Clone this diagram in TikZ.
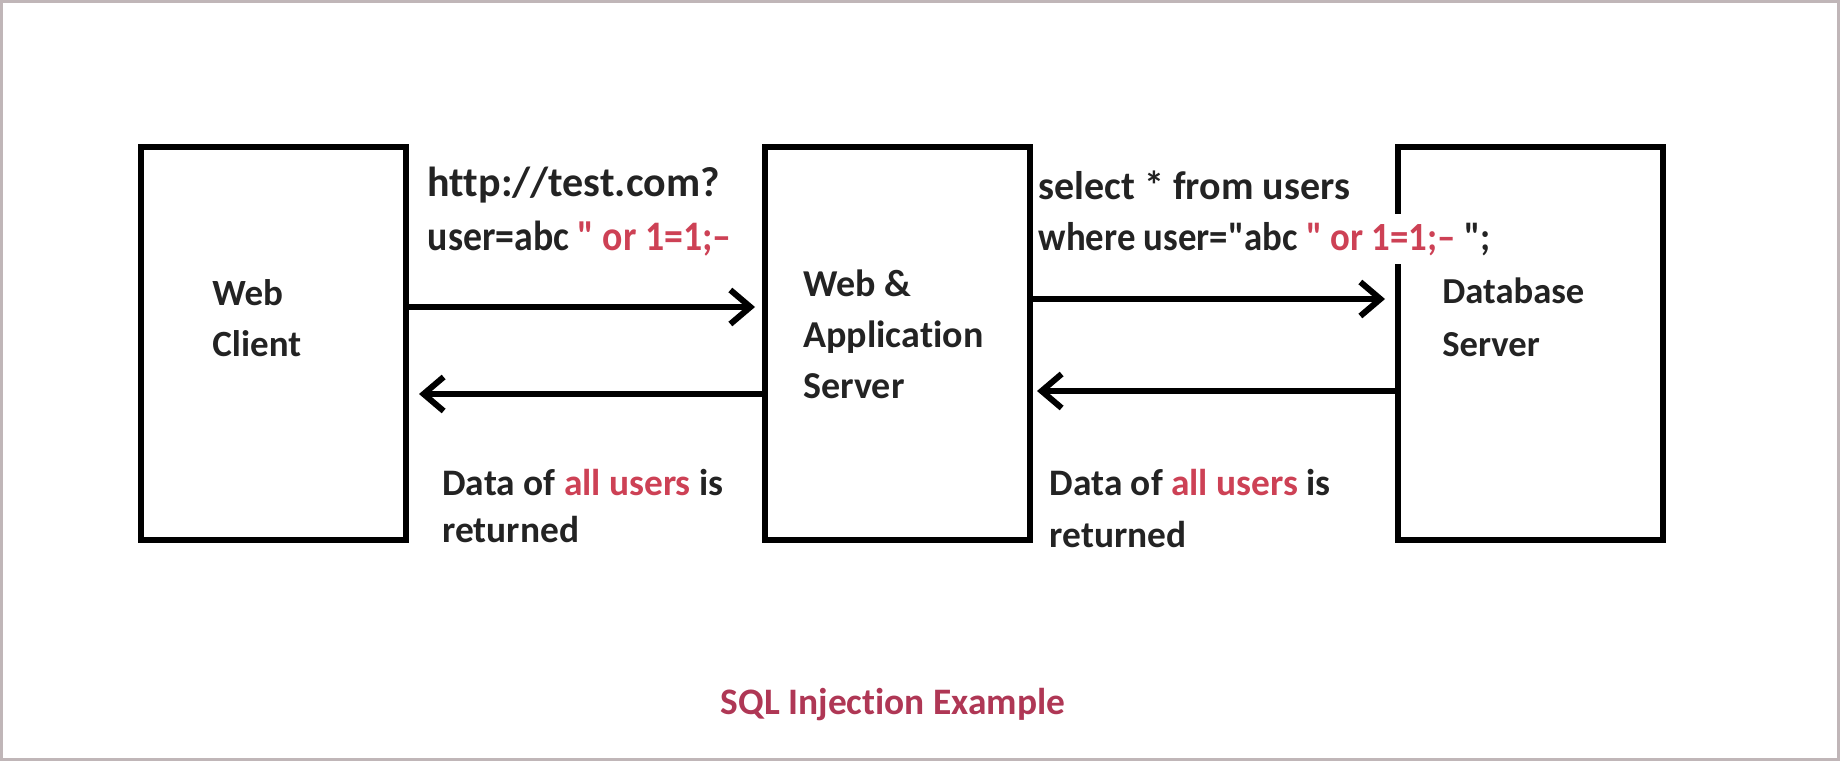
\documentclass[tikz,border=0pt]{standalone}
\usepackage{fontspec}
\setmainfont{Carlito}[Ligatures={TeX,NoCommon}]
\usetikzlibrary{arrows.meta,positioning}

\definecolor{inkgray}{RGB}{35,35,35}
\definecolor{injred}{RGB}{205,65,85}
\definecolor{titlered}{RGB}{175,55,85}
\definecolor{framegray}{RGB}{192,182,184}

\newcommand{\bad}[1]{\textcolor{injred}{#1}}
\newcommand{\dq}{\textquotedbl}

\begin{document}
\begin{tikzpicture}
      [ x=0.5pt, y=-0.5pt,
        tier/.style={draw=black, line width=3pt, minimum width=132.5pt,
                     minimum height=196.5pt, inner sep=0pt},
        txt/.style 2 args={font=\bfseries\fontsize{#1}{#2}\selectfont,
                    text=inkgray, align=left, inner sep=0pt, anchor=west},
        flow/.style={-{Straight Barb[length=10pt,width=17pt]}, line width=3pt}
      ]
      \useasboundingbox (0,0) rectangle (1840,761);
      \draw[framegray, line width=1.5pt] (1.5,1.5) rectangle (1838.5,759.5);

      % the three tiers
      \node[tier]  (client) at (273.5,343.5)          {};
      \node[tier]  (appsrv) [right=176.5pt of client] {};
      \node[tier]  (dbsrv)  [right=181pt of appsrv]   {};

      \node[txt={18.5}{25.5}] (client-name) at ([shift={(37pt,12.75pt)}]client.west) {Web\\Client};
      \node[txt={19}{25.5}]   (appsrv-name) at ([shift={(20.5pt,4.75pt)}]appsrv.west) {Web \&\\Application\\Server};
      \node[txt={18.3}{26.5}] (dbsrv-name)  at ([shift={(23.5pt,13.25pt)}]dbsrv.west) {Database\\Server};

      % requests
      \node[txt={21}{27}] (req-url) at ([shift={(9.15pt,65.75pt)}]client.east)
            {http://test.com?\\\scalebox{0.9}[1]{user=abc \bad{\dq\ or 1=1;--}}};
      \node[txt={20}{27}] (sql-from) at ([shift={(2.65pt,79.25pt)}]appsrv.east)
            {select * from users};
      \node[txt={20}{27}, fill=white, inner ysep=4pt] (sql-where)
            at ([shift={(2.65pt,52.25pt)}]appsrv.east)
            {\scalebox{0.92}[1]{where user=\dq abc \bad{\dq\ or 1=1;--} \dq;}};

      % responses
      \node[txt={18.7}{23.5}] (resp-app) at ([shift={(16.5pt,-81.25pt)}]client.east)
            {Data of \bad{all users} is\\returned};
      \node[txt={18.7}{26}]   (resp-db)  at ([shift={(8.15pt,-82.75pt)}]appsrv.east)
            {Data of \bad{all users} is\\returned};

      \path[flow] ([yshift=18.25pt]client.east)  edge [shorten >=3.5pt] ([yshift=18.25pt]appsrv.west)
                  ([yshift=-25.25pt]appsrv.west) edge [shorten >=5pt]   ([yshift=-25.25pt]client.east)
                  ([yshift=22.25pt]appsrv.east)  edge [shorten >=5pt]   ([yshift=22.25pt]dbsrv.west)
                  ([yshift=-23.75pt]dbsrv.west)  edge [shorten >=2pt]   ([yshift=-23.75pt]appsrv.east);

      \node[font=\bfseries\fontsize{18.7}{24}\selectfont, text=titlered] (caption)
            at ([shift={(-2.25pt,-180.75pt)}]appsrv.center) {SQL Injection Example};
    \end{tikzpicture}
\end{document}
